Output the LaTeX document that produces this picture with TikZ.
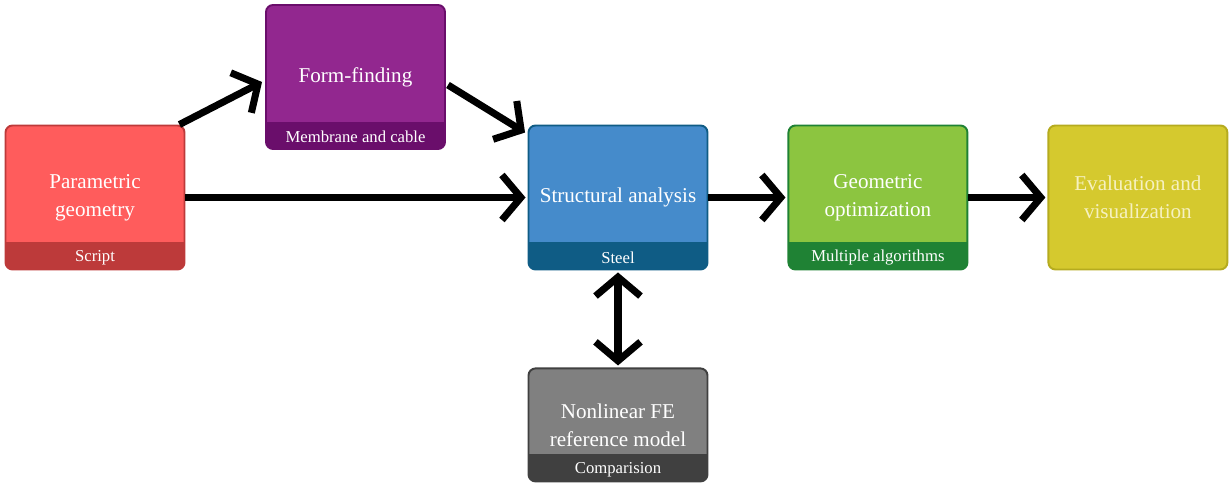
\documentclass[tikz,border=0pt]{standalone}
\usepackage{fontspec}
\setmainfont{Liberation Serif}
\usepackage{tikz}
\usetikzlibrary{arrows.meta,positioning}
\definecolor{paramfill}{HTML}{FF5C5C}
\definecolor{paramdark}{HTML}{BD3A3A}
\definecolor{formfill}{HTML}{92278F}
\definecolor{formdark}{HTML}{6A0E6B}
\definecolor{structfill}{HTML}{458BCB}
\definecolor{structdark}{HTML}{0F5C85}
\definecolor{geomfill}{HTML}{8CC540}
\definecolor{geomdark}{HTML}{1F8234}
\definecolor{evalfill}{HTML}{D5C92E}
\definecolor{evaldark}{HTML}{B5AB1F}
\definecolor{evaltext}{HTML}{F6F1C0}
\definecolor{fefill}{HTML}{808080}
\definecolor{fedark}{HTML}{404040}

\tikzset{
  block/.style={draw=#1dark, fill=#1fill, line width=1.1pt, rounded corners=4pt,
    minimum width=3.58cm, minimum height=2.88cm, align=center, text=white,
    font=\fontsize{12}{16}\selectfont},
  banded/.style={path picture={\fill[#1, sharp corners] (path picture bounding box.south west)
    rectangle ([yshift=0.54cm]path picture bounding box.south east);}},
  sub/.style={text=white, font=\fontsize{9.5}{11}\selectfont, inner sep=0pt},
  flow/.style={line width=4pt, -{Straight Barb[length=0.38cm,width=0.9cm]}},
}

\begin{document}
\begin{tikzpicture}
    \useasboundingbox (0,0) rectangle (24.62,9.68);

    \node[block=param, banded=paramdark] (param) at (1.90,5.73) {Parametric\\geometry};
    \node[block=form, banded=formdark] (form) at (7.11,8.14) {Form-finding};
    \node[block=struct, banded=structdark] (struct) at (12.36,5.73) {Structural analysis};
    \node[block=geom, banded=geomdark, right=1.58cm of struct] (geom) {Geometric\\optimization};
    \node[block=eval, text=evaltext, right=1.58cm of geom] (eval) {Evaluation and\\visualization};
    \node[block=fe, banded=fedark, minimum height=2.26cm, below=1.94cm of struct] (fe) {Nonlinear FE\\reference model};

    \node[sub] (paramsub) at ([yshift=0.26cm]param.south) {Script};
    \node[sub] (formsub) at ([yshift=0.26cm]form.south) {Membrane and cable};
    \node[sub] (structsub) at ([yshift=0.26cm]struct.south) {Steel};
    \node[sub] (geomsub) at ([yshift=0.26cm]geom.south) {Multiple algorithms};
    \node[sub] (fesub) at ([yshift=0.26cm]fe.south) {Comparision};

    \draw[flow] ([xshift=-0.12cm]param.north east) -- ([shift={(-0.06cm,-0.1cm)}]form.west);
    \draw[flow] ([shift={(0.04cm,-0.16cm)}]form.east) -- ([shift={(-0.05cm,-0.16cm)}]struct.north west);
    \draw[flow] (param.east) -- ([xshift=-0.04cm]struct.west);
    \draw[flow] (struct.east) -- ([xshift=-0.04cm]geom.west);
    \draw[flow] (geom.east) -- ([xshift=-0.04cm]eval.west);
    \draw[flow, {Straight Barb[length=0.38cm,width=0.9cm]}-{Straight Barb[length=0.38cm,width=0.9cm]}]
      ([yshift=-0.04cm]struct.south) -- ([yshift=0.04cm]fe.north);
\end{tikzpicture}
\end{document}
